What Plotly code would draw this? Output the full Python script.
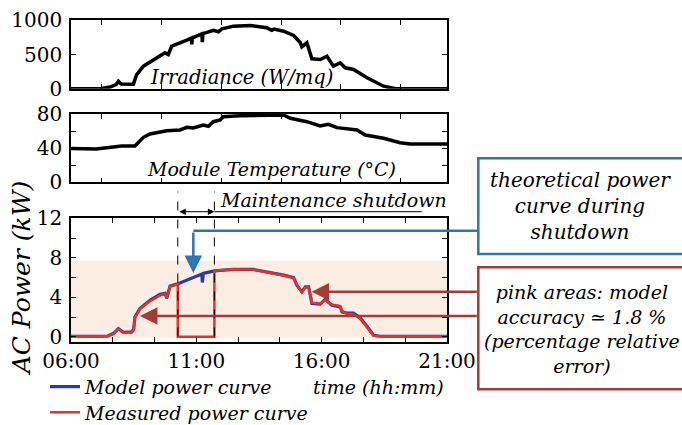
import plotly.graph_objects as go

# ---------------- data ----------------
irr_time = [6.0, 7.16, 7.56, 7.8, 7.89, 8.0, 8.49, 8.62, 8.89, 9.42, 9.75, 9.88, 10.02, 10.62, 10.80,
            10.82, 10.84, 11.15, 11.22, 11.24, 11.26, 11.68, 11.88, 12.02, 12.48, 13.15, 13.81, 14.01,
            14.1, 14.48, 14.88, 15.15, 15.21, 15.41, 15.61, 15.94, 16.21, 16.47, 16.74, 16.94, 17.27,
            17.81, 18.47, 18.95, 21.0]
irr_wm2 = [0, 0, 25, 60, 111, 70, 68, 208, 330, 451, 524, 500, 621, 709, 740,
           646, 742, 791, 801, 679, 803, 854, 831, 874, 913, 923, 889, 854,
           870, 840, 777, 671, 612, 671, 437, 427, 475, 330, 379, 306, 281,
           160, 38, 0, 0]

temp_time = [6.0, 7.0, 7.6, 8.02, 8.55, 8.89, 9.15, 9.55, 9.82, 10.35, 10.62, 10.88, 11.28, 11.48,
             11.68, 11.95, 12.08, 12.75, 13.68, 14.48, 14.75, 15.41, 15.94, 16.27, 16.61, 17.41,
             17.74, 18.47, 19.13, 19.53, 21.0]
temp_c = [39.5, 39, 41, 42.5, 42.5, 52.7, 56.6, 58.6, 60.4, 61.3, 64.4, 63.6, 67.1, 65.7,
          71, 73, 76.8, 78, 78, 78.8, 75, 71, 66, 67.9, 64, 61.3,
          55.4, 51.5, 46.4, 44.9, 44.9]

model_time = [6.0, 7.45, 7.7, 7.89, 8.09, 8.42, 8.5, 8.55, 8.75, 9.15, 9.55, 9.75, 9.82, 9.95,
              10.22, 10.62, 11.02, 11.22, 11.24, 11.26, 11.28, 11.72, 12.48, 13.28, 13.81, 14.48,
              14.88, 15.01, 15.21, 15.35, 15.48, 15.61, 15.94, 16.14, 16.41, 16.74, 16.81, 17.01,
              17.27, 17.54, 17.81, 18.07, 18.34, 21.0]
model_kw = [0.05, 0.05, 0.35, 0.83, 0.45, 0.5, 0.8, 2.0, 2.86, 3.7, 4.3, 4.4, 3.9, 5.13,
            5.33, 5.74, 6.14, 6.35, 5.5, 6.38, 6.42, 6.68, 6.82, 6.82, 6.58, 6.24,
            6.0, 5.23, 4.55, 5.06, 5.06, 3.37, 3.3, 3.78, 3.2, 3.03, 2.52, 2.4,
            2.4, 1.9, 1.05, 0.15, 0.05, 0.05]

meas_time = [6.0, 7.45, 7.7, 7.89, 8.09, 8.42, 8.5, 8.55, 8.75, 9.15, 9.55, 9.75, 9.82, 9.95,
             10.22, 10.26, 10.26, 11.72, 11.72, 12.48, 13.28, 13.81, 14.48,
             14.88, 15.01, 15.21, 15.35, 15.48, 15.61, 15.94, 16.14, 16.41, 16.74, 16.81, 17.01,
             17.27, 17.54, 17.81, 18.07, 18.34, 21.0]
meas_kw = [0.05, 0.05, 0.3, 0.8, 0.4, 0.45, 0.7, 1.9, 2.8, 3.6, 4.2, 4.35, 3.95, 5.1,
           5.3, 5.35, 0.0, 0.0, 6.68, 6.85, 6.8, 6.55, 6.2,
           5.95, 5.3, 4.5, 5.0, 5.0, 3.45, 3.35, 3.7, 3.25, 3.1, 2.6, 2.3,
           2.3, 1.8, 0.95, 0.1, 0.05, 0.05]

shutdown = [10.26, 11.72]
accuracy_band = 7.7

top_ticks = [7.22, 9.62, 12.02, 14.41, 16.77, 19.13]
bottom_tickvals = [6, 11, 16, 21]
bottom_ticktext = ["06:00", "11:00", "16:00", "21:00"]

# ---------------- layout helpers ----------------
W, H = 682, 425
XL, XR = 71, 447
def px(x):
    return x / W
def py(y):
    return 1 - y / H
def hx(h):
    return XL + (h - 6) / 15 * (XR - XL)

SERIF = "DejaVu Serif"
BLUE_M = "#2B3C9E"
RED_M = "#E8302A"
BLUE_A = "#2E75B6"
BROWN = "#A33B36"

fig = go.Figure()
fig.add_trace(go.Scatter(x=irr_time, y=irr_wm2, mode="lines", line=dict(color="black", width=3.5),
                         xaxis="x", yaxis="y", showlegend=False))
fig.add_trace(go.Scatter(x=temp_time, y=temp_c, mode="lines", line=dict(color="black", width=3.5),
                         xaxis="x2", yaxis="y2", showlegend=False))
fig.add_trace(go.Scatter(x=model_time, y=model_kw, mode="lines", name="Model power curve",
                         line=dict(color=BLUE_M, width=3.2), xaxis="x3", yaxis="y3",
                         legend="legend"))
fig.add_trace(go.Scatter(x=meas_time, y=meas_kw, mode="lines", name="Measured power curve",
                         line=dict(color=RED_M, width=2.5), xaxis="x3", yaxis="y3",
                         legend="legend2"))

axis_common = dict(showline=True, linewidth=1.5, linecolor="black", mirror="ticks",
                   ticks="inside", ticklen=5, tickwidth=1, tickcolor="black",
                   showgrid=False, zeroline=False, automargin=False,
                   tickfont=dict(family=SERIF, size=20, color="black"))

leg_common = dict(xanchor="left", yanchor="middle", bgcolor="rgba(0,0,0,0)",
                  font=dict(family=SERIF, size=19, color="black", style="italic"),
                  itemwidth=30)

xdom = [px(XL), px(XR)]
fig.update_layout(
    width=W, height=H, margin=dict(l=0, r=0, t=0, b=0, autoexpand=False),
    paper_bgcolor="white", plot_bgcolor="rgba(0,0,0,0)",
    font=dict(family=SERIF, color="black"),
    xaxis=dict(domain=xdom, range=[6, 21], anchor="y", tickmode="array", tickvals=top_ticks,
               showticklabels=False, **axis_common),
    yaxis=dict(domain=[py(88.8), py(20.2)], range=[0, 1000], anchor="x", tickvals=[0, 500, 1000],
               ticklabelstandoff=3, **axis_common),
    xaxis2=dict(domain=xdom, range=[6, 21], anchor="y2", tickmode="array", tickvals=top_ticks,
                showticklabels=False, **axis_common),
    yaxis2=dict(domain=[py(182.3), py(114)], range=[0, 80], anchor="x2", tickvals=[0, 40, 80],
                minor=dict(tickvals=[20, 60], ticks="inside", ticklen=5, tickcolor="black"),
                ticklabelstandoff=3, **axis_common),
    xaxis3=dict(domain=xdom, range=[6, 21], anchor="y3", tickmode="array",
                tickvals=bottom_tickvals, ticktext=bottom_ticktext,
                minor=dict(tickmode="linear", tick0=6, dtick=5 / 3, ticks="inside", ticklen=5,
                           tickcolor="black"),
                ticklabelstandoff=1, **axis_common),
    yaxis3=dict(domain=[py(341.7), py(218.3)], range=[-0.5, 12], anchor="x3",
                tickvals=[0, 4, 8, 12],
                minor=dict(tickvals=[2, 6, 10], ticks="inside", ticklen=5, tickcolor="black"),
                ticklabelstandoff=3, **axis_common),
    legend=dict(x=px(45), y=py(386.7), **leg_common),
    legend2=dict(x=px(45), y=py(412.5), **leg_common),
)

shapes = []
# accuracy band (pink area)
shapes.append(dict(type="rect", xref="x3", yref="y3", x0=6, x1=21, y0=-0.1, y1=accuracy_band,
                   fillcolor="#FBEDE1", line=dict(width=0), layer="below"))
# dashed shutdown markers
for t in shutdown:
    shapes.append(dict(type="line", xref="x3", yref="paper", x0=t, x1=t, y0=py(336.5), y1=py(191.5),
                       line=dict(color="black", width=1, dash="dash")))
# underline
shapes.append(dict(type="line", xref="paper", yref="paper", x0=px(hx(shutdown[1])), x1=px(421.7),
                   y0=py(211.7), y1=py(211.7), line=dict(color="black", width=1)))
# blue connector
shapes.append(dict(type="line", xref="paper", yref="paper", x0=px(hx(10.88)), x1=px(478.3),
                   y0=py(230.8), y1=py(230.8), line=dict(color=BLUE_A, width=2.5)))
# boxes
shapes.append(dict(type="rect", xref="paper", yref="paper", x0=px(478.3), x1=px(700),
                   y0=py(254), y1=py(158.3), line=dict(color=BLUE_A, width=2.5)))
shapes.append(dict(type="rect", xref="paper", yref="paper", x0=px(478.3), x1=px(700),
                   y0=py(389.3), y1=py(267.3), line=dict(color=BROWN, width=2.5)))
fig.update_layout(shapes=shapes)

ann = []
def txt(text, x, y, size=19, xanchor="center", yanchor="middle", angle=0, align="center"):
    ann.append(dict(text=text, x=px(x), y=py(y), xref="paper", yref="paper", showarrow=False,
                    xanchor=xanchor, yanchor=yanchor, textangle=angle, align=align,
                    font=dict(family=SERIF, size=size, color="black", style="italic")))

txt("Irradiance (W/mq)", 241.7, 77.5, size=19.5)
txt("Module Temperature (°C)", 271.5, 168.5, size=19)
txt("Maintenance shutdown", 218, 199.5, xanchor="left", size=19)
txt("time (hh:mm)", 446, 386.5, xanchor="right", size=19)
txt("AC Power (kW)", 21, 278.3, size=25, angle=-90)
txt("theoretical power<br>curve during<br>shutdown", 580.5, 206.5, size=20)
txt("pink areas: model<br>accuracy ≃ 1.8 %<br>(percentage relative<br>error)", 581.5, 329, size=19)

# double arrow for shutdown period
ann.append(dict(x=px(hx(shutdown[1])), y=py(211.7), xref="paper", yref="paper", text="",
                showarrow=True, ax=-(hx(shutdown[1]) - hx(shutdown[0])), ay=0,
                arrowhead=2, arrowside="end+start", arrowsize=1.3, arrowwidth=1, arrowcolor="black",
                standoff=0, startstandoff=0))
# blue arrow down to theoretical curve
ann.append(dict(x=px(hx(10.88)), y=py(273), xref="paper", yref="paper", text="", showarrow=True,
                ax=0, ay=-42, arrowhead=2, arrowsize=1.4, arrowwidth=2.5, arrowcolor=BLUE_A))
# brown arrows
for (h, yy) in [(15.6, 291.7), (8.75, 316.0)]:
    ann.append(dict(x=px(hx(h)), y=py(yy), xref="paper", yref="paper", text="", showarrow=True,
                    ax=478.3 - hx(h), ay=0, arrowhead=2, arrowsize=1.4, arrowwidth=2.5,
                    arrowcolor=BROWN))
fig.update_layout(annotations=ann)

fig.write_html("out.html")
